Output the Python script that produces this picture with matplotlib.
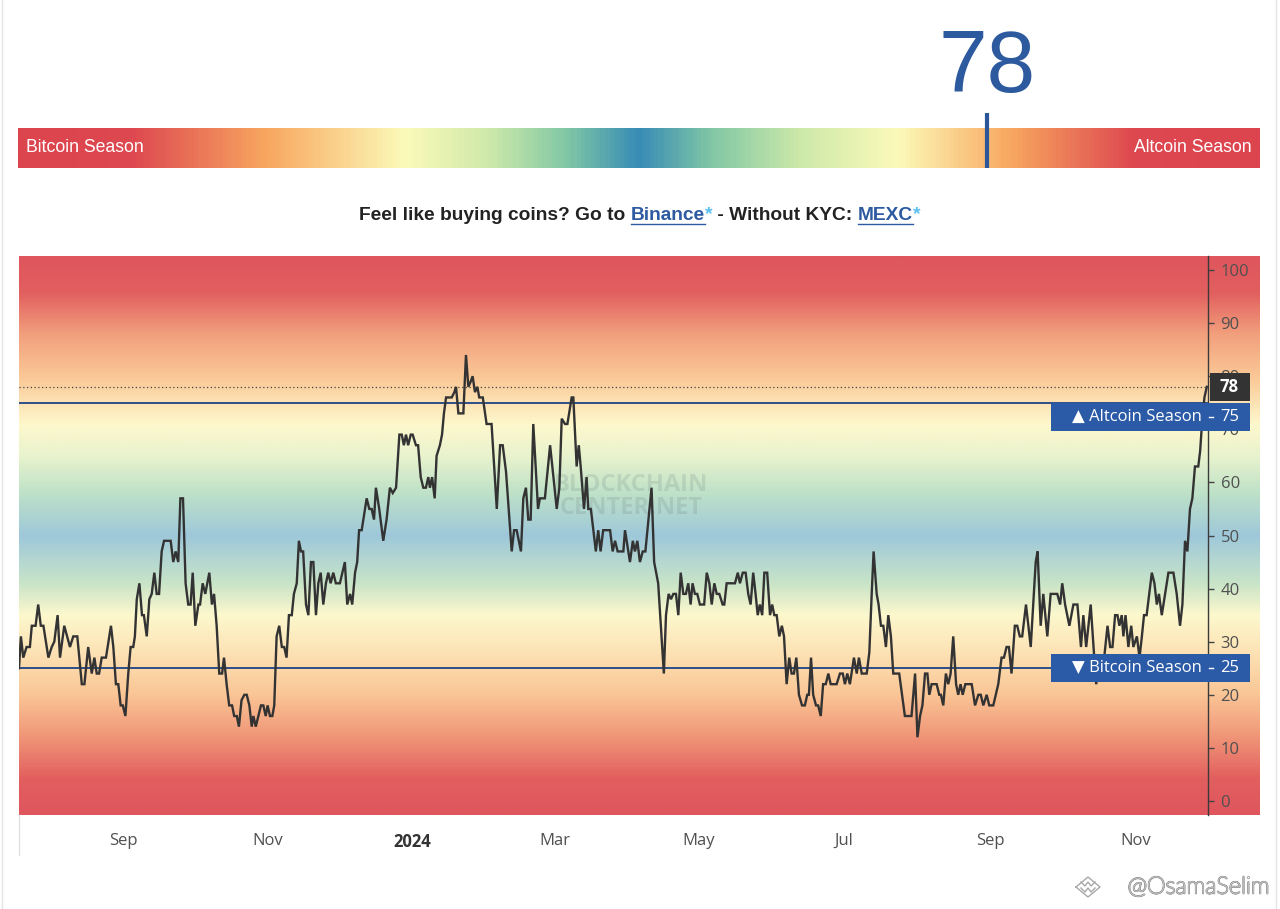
import numpy as np
import pandas as pd
import matplotlib
matplotlib.use("Agg")
import matplotlib.pyplot as plt
import matplotlib.transforms as mtransforms
import matplotlib.patheffects as pe
from matplotlib.colors import LinearSegmentedColormap
from matplotlib.patches import Rectangle
from matplotlib.lines import Line2D

# ---------------- data ----------------
start_date = "2023-07-19"
day_offsets = [
    0.0, 0.8, 1.8, 3.2, 4.6, 5.4, 7.0, 8.1, 9.2, 10.3, 12.4, 13.8, 14.9, 16.3, 17.3, 19.1, 21.5, 22.9, 24.6, 26.5,
    27.6, 29.2, 30.7, 31.8, 32.8, 33.8, 34.9, 36.7, 38.8, 39.8, 40.9, 41.9, 42.9, 43.8, 44.9, 46.1, 47.1, 48.2, 48.9, 49.7,
    50.8, 51.9, 52.7, 53.9, 55.0, 56.0, 57.1, 58.1, 59.1, 60.2, 61.2, 64.0, 65.1, 66.1, 67.2, 68.1, 69.2, 70.3, 71.4, 72.4,
    73.3, 74.4, 75.7, 76.4, 77.5, 78.6, 80.3, 81.4, 82.3, 83.4, 84.5, 85.7, 86.5, 87.6, 88.7, 89.9, 90.8, 91.9, 92.8, 93.9,
    95.1, 96.1, 97.2, 98.2, 98.9, 99.9, 101.0, 102.1, 103.1, 104.1, 104.9, 105.9, 106.9, 107.7, 108.7, 109.8, 110.9, 111.9, 112.9, 113.9,
    115.1, 116.0, 117.2, 118.1, 119.0, 119.9, 121.1, 122.1, 123.2, 124.2, 125.3, 126.3, 127.3, 128.4, 129.5, 130.5, 131.5, 132.6, 133.7, 135.4,
    137.5, 138.5, 139.7, 140.6, 141.8, 142.7, 143.5, 144.6, 146.7, 147.8, 148.8, 149.8, 150.6, 152.0, 153.7, 155.1, 156.5, 157.7, 159.1, 160.5,
    161.5, 162.4, 163.3, 164.2, 165.3, 166.1, 167.5, 168.4, 169.5, 170.6, 171.7, 172.7, 173.4, 174.3, 175.4, 176.2, 177.6, 178.5, 179.3, 180.2,
    182.6, 183.7, 184.4, 185.4, 187.5, 188.6, 189.6, 190.6, 191.4, 192.4, 193.4, 194.2, 195.7, 197.3, 199.4, 201.6, 203.0, 204.1, 205.5, 207.9,
    208.9, 210.0, 211.8, 212.8, 213.9, 214.9, 215.9, 217.0, 219.0, 219.8, 221.9, 224.1, 226.9, 228.0, 229.0, 230.4, 231.4, 233.2, 233.9, 235.3,
    236.2, 237.0, 238.4, 239.5, 240.2, 241.3, 243.4, 244.4, 245.4, 246.5, 249.4, 250.5, 251.5, 252.6, 255.0, 255.7, 257.8, 259.0, 259.9, 260.9,
    262.0, 263.2, 264.3, 266.9, 268.0, 269.7, 272.1, 273.0, 274.1, 275.1, 276.1, 277.2, 278.2, 279.2, 280.3, 281.4, 282.4, 283.4, 284.2, 285.2,
    286.2, 287.3, 289.1, 290.2, 291.3, 292.3, 293.4, 294.4, 295.5, 296.9, 297.6, 298.6, 302.1, 303.3, 304.2, 305.4, 306.6, 307.7, 308.7, 309.8,
    310.8, 311.7, 312.6, 313.6, 314.5, 315.7, 316.9, 317.8, 318.7, 319.7, 320.8, 321.9, 322.8, 323.9, 325.0, 326.0, 327.0, 328.0, 329.1, 330.4,
    331.6, 332.6, 333.3, 334.2, 335.1, 336.3, 337.2, 338.3, 339.3, 340.4, 341.5, 342.5, 345.0, 346.4, 347.6, 348.5, 349.5, 350.6, 352.3, 353.5,
    354.4, 355.6, 357.7, 358.8, 359.8, 360.6, 361.9, 362.7, 363.7, 364.7, 365.8, 366.8, 367.9, 368.9, 371.4, 373.8, 376.6, 378.1, 379.1, 380.2,
    381.2, 382.3, 383.3, 384.1, 385.1, 387.2, 388.3, 389.0, 390.0, 391.1, 392.1, 393.1, 394.2, 395.4, 396.3, 397.3, 398.2, 399.3, 402.0, 403.4,
    404.8, 405.8, 406.9, 408.3, 409.4, 411.1, 413.2, 414.6, 415.6, 416.7, 417.7, 418.8, 420.2, 421.2, 422.3, 423.3, 424.9, 426.9, 429.0, 429.8,
    431.1, 432.2, 433.9, 435.3, 437.1, 438.1, 439.3, 440.2, 441.4, 443.2, 444.9, 446.6, 448.1, 449.1, 450.3, 452.2, 453.4, 454.5, 455.8, 456.9,
    457.9, 459.3, 460.4, 461.4, 462.5, 463.5, 464.3, 465.3, 466.0, 466.9, 468.1, 469.3, 470.2, 471.7, 472.8, 473.8, 474.7, 475.8, 478.0, 479.1,
    480.1, 481.0, 482.2, 483.6, 485.0, 487.1, 488.5, 489.9, 490.9, 492.0, 493.0, 494.1, 495.1, 496.2, 497.6, 498.4, 499.3, 500.2, 501.2,
]
index_values = [
    25, 31, 27, 29, 29, 33, 33, 37, 33, 33, 27, 29, 30, 35, 27, 33, 29, 31, 31, 22,
    22, 29, 24, 27, 24, 24, 27, 27, 33, 29, 22, 22, 18, 18, 16, 24, 29, 29, 31, 38,
    41, 35, 35, 31, 38, 39, 43, 39, 39, 47, 49, 49, 45, 47, 45, 57, 57, 41, 37, 37,
    43, 33, 37, 37, 41, 39, 43, 37, 39, 33, 24, 24, 27, 22, 18, 18, 16, 16, 14, 19,
    20, 20, 18, 14, 16, 14, 16, 18, 18, 16, 18, 16, 16, 18, 31, 33, 29, 29, 27, 35,
    35, 39, 41, 49, 47, 47, 37, 35, 45, 45, 35, 41, 43, 37, 41, 43, 41, 43, 41, 41,
    45, 37, 39, 37, 43, 45, 51, 51, 57, 55, 55, 53, 59, 55, 49, 53, 59, 58, 59, 69,
    69, 67, 69, 67, 69, 69, 67, 67, 61, 59, 59, 61, 59, 61, 57, 65, 67, 69, 73, 76,
    76, 77, 78, 73, 73, 84, 78, 79, 80, 77, 78, 76, 76, 71, 71, 55, 67, 67, 62, 47,
    51, 51, 47, 57, 59, 53, 53, 71, 55, 57, 57, 67, 55, 59, 72, 71, 71, 76, 76, 63,
    67, 63, 55, 61, 55, 55, 47, 51, 47, 51, 51, 47, 49, 47, 47, 51, 45, 49, 47, 49,
    45, 47, 47, 59, 45, 41, 24, 35, 39, 38, 39, 39, 35, 43, 39, 39, 41, 37, 41, 39,
    39, 37, 37, 43, 41, 37, 41, 39, 39, 37, 37, 41, 41, 43, 41, 43, 43, 39, 37, 43,
    39, 35, 37, 35, 43, 43, 35, 37, 35, 35, 31, 33, 31, 22, 27, 24, 24, 27, 20, 18,
    18, 20, 20, 27, 20, 18, 18, 16, 22, 22, 24, 22, 22, 24, 24, 22, 24, 22, 27, 24,
    27, 24, 24, 28, 39, 47, 39, 37, 33, 33, 29, 35, 31, 24, 24, 16, 16, 24, 12, 16,
    18, 24, 24, 20, 22, 22, 20, 20, 18, 24, 22, 24, 31, 22, 20, 22, 20, 22, 22, 18,
    20, 20, 18, 20, 18, 18, 22, 27, 27, 29, 29, 24, 33, 33, 31, 31, 37, 29, 45, 47,
    33, 39, 31, 39, 39, 39, 37, 41, 37, 33, 37, 37, 29, 35, 29, 37, 29, 22, 25, 25,
    27, 33, 29, 29, 35, 35, 33, 35, 31, 35, 29, 33, 29, 31, 27, 31, 35, 35, 43, 41,
    37, 39, 35, 39, 43, 43, 39, 33, 37, 49, 47, 55, 57, 63, 63, 66, 72, 76, 78,
]
n = min(len(day_offsets), len(index_values))
day_offsets = day_offsets[:n]
index_values = index_values[:n]

current_value = 78
altcoin_threshold = 75
bitcoin_threshold = 25
y_ticks = list(range(0, 101, 10))
x_tick_dates = ["2023-09-01", "2023-11-01", "2024-01-01", "2024-03-01",
                "2024-05-01", "2024-07-01", "2024-09-01", "2024-11-01"]
x_tick_labels = ["Sep", "Nov", "2024", "Mar", "May", "Jul", "Sep", "Nov"]
x_span_days = 501.7
y_range = (-2.64, 102.64)

# ---------------- figure ----------------
W, H = 1280, 909
fig = plt.figure(figsize=(W / 100, H / 100), dpi=100)
fig.patch.set_facecolor("white")


def rect(x0, y0, x1, y1):
    return [x0 / W, 1 - y1 / H, (x1 - x0) / W, (y1 - y0) / H]


def rgb(r, g, b):
    return (r / 255, g / 255, b / 255)


# page borders
fig.add_artist(Line2D([2 / W, 2 / W], [0, 1], color="#e4e4e4", lw=1))
fig.add_artist(Line2D([1276 / W, 1276 / W], [0, 1], color="#e4e4e4", lw=1))

# ---------------- top gradient bar ----------------
bar_stops = [(0, (220, 68, 78)), (9, (222, 72, 80)), (20, (248, 168, 96)), (31, (252, 250, 185)),
             (38, (205, 233, 170)), (44, (130, 200, 165)), (50, (55, 140, 182)), (56, (130, 200, 165)),
             (63, (205, 233, 170)), (71, (252, 250, 185)), (80, (248, 168, 96)), (90, (222, 72, 80)),
             (100, (220, 68, 78))]
bar_cmap = LinearSegmentedColormap.from_list("bar", [(v / 100, rgb(*c)) for v, c in bar_stops])
ax_bar = fig.add_axes(rect(18, 128, 1260, 168))
ax_bar.imshow(np.linspace(0, 1, 600)[None, :], cmap=bar_cmap, aspect="auto",
              extent=[0, 100, 0, 1], origin="lower")
ax_bar.set_xlim(0, 100)
ax_bar.set_ylim(0, 1)
ax_bar.axis("off")
ax_bar.text(0.0065, 0.5, "Bitcoin Season", transform=ax_bar.transAxes, ha="left", va="center",
            color="white", fontsize=12.7, family="Liberation Sans")
ax_bar.text(0.993, 0.5, "Altcoin Season", transform=ax_bar.transAxes, ha="right", va="center",
            color="white", fontsize=12.7, family="Liberation Sans")
ax_bar.plot([current_value, current_value], [0, 1 + 15 / 40], color="#2b579a", lw=3,
            clip_on=False, solid_capstyle="butt")
ax_bar.text(current_value, 1 + 36 / 40, str(current_value), ha="center", va="baseline",
            fontsize=63, color="#2d5a9e", family="Liberation Sans")

# ---------------- subtitle ----------------
pieces = [("Feel like buying coins? Go to ", "#222222", False),
          ("Binance", "#2d5aa0", True),
          ("*", "#5bc0eb", False),
          (" - Without KYC: ", "#222222", False),
          ("MEXC", "#2d5aa0", True),
          ("*", "#5bc0eb", False)]
renderer = fig.canvas.get_renderer()
sub_y = 1 - 215 / H
texts = []
for s, c, u in pieces:
    t = fig.text(0, sub_y, s, color=c, fontsize=13.8, fontweight="bold",
                 family="Liberation Sans", va="center", ha="left")
    texts.append(t)
widths = [t.get_window_extent(renderer).width for t in texts]
x = 640 - sum(widths) / 2
for t, w, (s, c, u) in zip(texts, widths, pieces):
    t.set_x(x / W)
    if u:
        yu = sub_y - 9 / H
        fig.add_artist(Line2D([x / W, (x + w) / W], [yu, yu], color=c, lw=1))
    x += w

# ---------------- chart background ----------------
ymin, ymax = y_range
bg_stops = [(ymin, (223, 86, 93)), (4, (226, 95, 95)), (12, (240, 150, 120)), (20, (250, 198, 150)),
            (29, (253, 230, 185)), (35, (252, 248, 205)), (41, (200, 228, 200)), (50, (158, 200, 218)),
            (58, (190, 225, 200)), (65, (232, 243, 205)), (71, (254, 248, 205)), (80, (250, 200, 150)),
            (88, (242, 160, 125)), (96, (226, 95, 95)), (ymax, (223, 86, 93))]
bg_cmap = LinearSegmentedColormap.from_list(
    "bg", [((v - ymin) / (ymax - ymin), rgb(*c)) for v, c in bg_stops])
ax_bg = fig.add_axes(rect(19, 256, 1260, 815))
ax_bg.imshow(np.linspace(0, 1, 800)[:, None], cmap=bg_cmap, aspect="auto",
             extent=[0, 1, ymin, ymax], origin="lower")
ax_bg.set_xlim(0, 1)
ax_bg.set_ylim(ymin, ymax)
ax_bg.axis("off")

# left light line below chart
fig.add_artist(Line2D([19 / W, 19 / W], [1 - 855 / H, 1 - 815 / H], color="#e2e2e2", lw=1))

# ---------------- main chart ----------------
ax = fig.add_axes(rect(19, 256, 1208, 815))
ax.set_facecolor("none")
t0 = pd.Timestamp(start_date)
dates = t0 + pd.to_timedelta(day_offsets, unit="D")
ax.plot(dates, index_values, color="#333333", lw=1.7, zorder=4, solid_joinstyle="miter")
ax.set_xlim(t0, t0 + pd.Timedelta(days=x_span_days))
ax.set_ylim(ymin, ymax)

ax.axhline(altcoin_threshold, color="#2c4e8a", lw=1.4, zorder=3)
ax.axhline(bitcoin_threshold, color="#2c4e8a", lw=1.4, zorder=3)
ax.axhline(current_value, color="#444444", lw=0.9, ls=(0, (1, 2)), zorder=3)

for side in ["top", "left", "bottom"]:
    ax.spines[side].set_visible(False)
ax.spines["right"].set_color("#3a3a3a")
ax.spines["right"].set_linewidth(1)

ax.yaxis.tick_right()
ax.set_yticks(y_ticks)
ax.tick_params(axis="y", length=4, width=1, color="#444444", labelcolor="#505050",
               labelsize=12, pad=5)
for lab in ax.get_yticklabels():
    lab.set_family("Open Sans")

ax.set_xticks(pd.to_datetime(x_tick_dates))
ax.set_xticklabels(x_tick_labels)
ax.tick_params(axis="x", length=0, pad=13, labelsize=12, labelcolor="#505050")
for lab in ax.get_xticklabels():
    lab.set_family("Open Sans")
    if lab.get_text() == "2024":
        lab.set_fontweight("bold")
        lab.set_color("#333333")

# watermark
ax.text(0.5145, 0.57, "BLOCKCHAIN\nCENTER.NET", transform=ax.transAxes, ha="center",
        va="center", fontsize=17, fontweight="bold", color="#5a6a70", alpha=0.16,
        family="Open Sans", linespacing=0.95, zorder=2)

# ---------------- price-scale labels ----------------
trans = mtransforms.blended_transform_factory(fig.transFigure, ax.transData)
px_per_unit = 559 / (ymax - ymin)
box_h = 28 / px_per_unit
shift_down = mtransforms.ScaledTranslation(0, -14 / 100, fig.dpi_scale_trans)
trans_alt = trans + shift_down

label_blue = "#2b5aa6"
tick_font = ["Open Sans", "DejaVu Sans"]

# current value box
fig.add_artist(Rectangle((1210 / W, current_value - box_h / 2), 40 / W, box_h, transform=trans,
                         facecolor="#333333", edgecolor="none", zorder=10, clip_on=False))
fig.text(1220 / W, current_value, str(current_value), transform=trans, color="white",
         fontsize=12, fontweight="bold", family=tick_font, va="center", ha="left", zorder=11)

# altcoin season box (pushed down below current value box)
fig.add_artist(Rectangle((1051 / W, altcoin_threshold - box_h / 2), 199 / W, box_h,
                         transform=trans_alt, facecolor=label_blue, edgecolor="none",
                         zorder=10, clip_on=False))
fig.text(1202 / W, altcoin_threshold, "\u25B2 Altcoin Season", transform=trans_alt, color="white",
         fontsize=12, family=tick_font, va="center", ha="right", zorder=11)
fig.add_artist(Line2D([1209 / W, 1213 / W], [altcoin_threshold, altcoin_threshold],
                      transform=trans_alt, color="white", lw=1, zorder=11))
fig.text(1220 / W, altcoin_threshold, str(altcoin_threshold), transform=trans_alt, color="white",
         fontsize=12, family=tick_font, va="center", ha="left", zorder=11)

# bitcoin season box
fig.add_artist(Rectangle((1051 / W, bitcoin_threshold - box_h / 2), 199 / W, box_h,
                         transform=trans, facecolor=label_blue, edgecolor="none",
                         zorder=10, clip_on=False))
fig.text(1202 / W, bitcoin_threshold, "\u25BC Bitcoin Season", transform=trans, color="white",
         fontsize=12, family=tick_font, va="center", ha="right", zorder=11)
fig.add_artist(Line2D([1209 / W, 1213 / W], [bitcoin_threshold, bitcoin_threshold],
                      transform=trans, color="white", lw=1, zorder=11))
fig.text(1220 / W, bitcoin_threshold, str(bitcoin_threshold), transform=trans, color="white",
         fontsize=12, family=tick_font, va="center", ha="left", zorder=11)

# ---------------- credit watermark ----------------
fig.text(1270 / W, 1 - 887 / H, "@OsamaSelim", ha="right", va="center", fontsize=17,
         color="white", family="Lato", fontweight="light",
         path_effects=[pe.withStroke(linewidth=1.3, foreground="#a0a0a0")])
# small logo mark left of the credit text
icon_cx, icon_cy = 1088, 887
icon_pts = [(-12, 0), (0, -10), (12, 0), (0, 10), (-12, 0)]
fig.add_artist(Line2D([(icon_cx + dx) / W for dx, dy in icon_pts],
                      [1 - (icon_cy + dy) / H for dx, dy in icon_pts],
                      color="#a8a8a8", lw=1))
for off in (-3, 3):
    chev = [(-7, off - 2), (-3, off + 2), (0, off - 2), (3, off + 2), (7, off - 2)]
    fig.add_artist(Line2D([(icon_cx + dx) / W for dx, dy in chev],
                          [1 - (icon_cy + dy) / H for dx, dy in chev],
                          color="#a8a8a8", lw=1))

fig.savefig("out.png", dpi=100, facecolor="white")
